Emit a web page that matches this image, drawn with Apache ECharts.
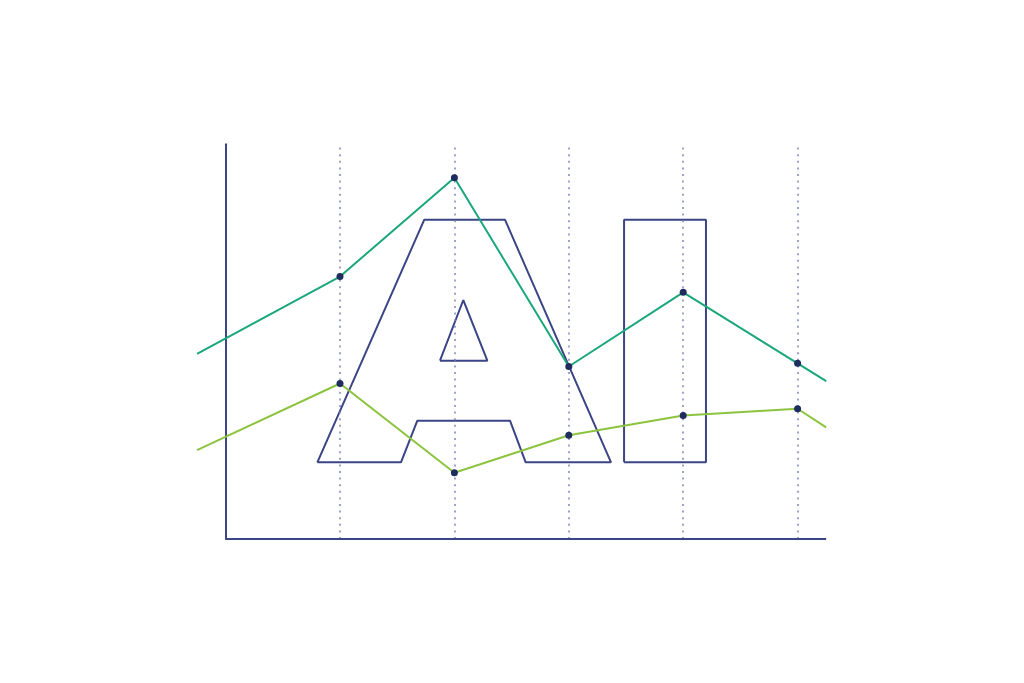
<!DOCTYPE html>
<html>
<head>
<meta charset="utf-8">
<script src="https://cdn.jsdelivr.net/npm/echarts@6/dist/echarts.min.js"></script>
<style>
html,body{margin:0;padding:0;background:#fff;}
#chart{width:1024px;height:683px;}
</style>
</head>
<body>
<div id="chart"></div>
<script>
// x positions of the points (dashed guides at 1..5; lines extend past the frame)
var xPositions = [-0.25, 1, 2, 3, 4, 5, 5.25];
var guideX = [1, 2, 3, 4, 5];
var tealValues = [46.9, 66.5, 91.5, 43.7, 62.5, 44.5, 40.0];
var greenValues = [22.5, 39.4, 16.8, 26.3, 31.3, 33.0, 28.3];

// "AI" glyph outlines in data coordinates
var letterAOuter = [[0.802,19.43],[1.533,19.43],[1.676,29.97],[2.486,29.97],[2.623,19.43],[3.369,19.43],[2.442,80.9],[1.737,80.9],[0.802,19.43]];
var letterAInner = [[1.874,45.17],[2.288,45.17],[2.078,60.55],[1.874,45.17]];
var letterI = [[3.483,19.43],[4.199,19.43],[4.199,80.9],[3.483,80.9],[3.483,19.43]];

var navy = '#3b4586';
var dotColor = '#1f2d5e';

function pts(vals) {
  return xPositions.map(function (x, i) {
    var edge = (i === 0 || i === xPositions.length - 1);
    return { value: [x, vals[i]], symbol: edge ? 'none' : 'circle' };
  });
}

var chart = echarts.init(document.getElementById('chart'), null, { renderer: 'canvas' });
var outlineSeries = [letterAOuter, letterAInner, letterI].map(function (shape) {
  return {
    type: 'line', data: shape, symbol: 'none', silent: true, z: 3,
    lineStyle: { color: navy, width: 2 }, animation: false
  };
});

chart.setOption({
  backgroundColor: '#ffffff',
  animation: false,
  grid: { left: 197, right: 197.8, top: 144.3, bottom: 144 },
  xAxis: {
    type: 'value', min: -0.25, max: 5.25,
    axisLine: { show: false }, axisTick: { show: false },
    axisLabel: { show: false }, splitLine: { show: false }
  },
  yAxis: {
    type: 'value', min: 0, max: 100,
    axisLine: { show: true, onZero: true, lineStyle: { color: navy, width: 2 } },
    axisTick: { show: false }, axisLabel: { show: false }, splitLine: { show: false }
  },
  series: [
    {
      type: 'line', data: [], z: 1, silent: true,
      markLine: {
        symbol: ['none', 'none'], silent: true, label: { show: false },
        lineStyle: { color: '#7f84bb', type: [2, 4.6], width: 1.5 },
        data: guideX.map(function (x) { return { xAxis: x }; })
      }
    },
    {
      type: 'line', data: [], z: 2, silent: true,
      markLine: {
        symbol: ['none', 'none'], silent: true, label: { show: false },
        lineStyle: { color: navy, type: 'solid', width: 2 },
        data: [[{ coord: [0, 0] }, { coord: [5.25, 0] }]]
      }
    }
  ].concat(outlineSeries).concat([
    {
      type: 'line', data: pts(tealValues), z: 5,
      symbolSize: 7, itemStyle: { color: dotColor },
      lineStyle: { color: '#1aa77b', width: 2 }
    },
    {
      type: 'line', data: pts(greenValues), z: 5,
      symbolSize: 7, itemStyle: { color: dotColor },
      lineStyle: { color: '#8cc43f', width: 2 }
    }
  ])
});
</script>
</body>
</html>
